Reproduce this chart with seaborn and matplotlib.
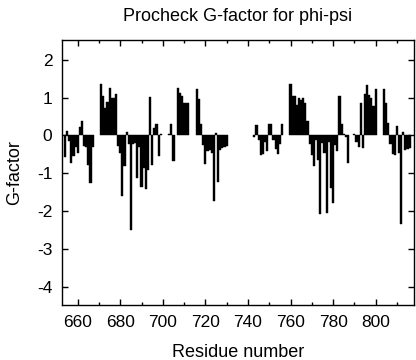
import numpy as np
import pandas as pd
import seaborn as sns
import matplotlib
matplotlib.use("Agg")
import matplotlib.pyplot as plt
from matplotlib.ticker import MultipleLocator

nan = np.nan

# G-factor per residue, three stretches of the chain (nan = no value)
seg1_start = 654
seg1 = [-0.58, 0.12, -0.15, -0.73, -0.54, -0.30, -0.45, 0.22, 0.38, -0.28,
        -0.30, -0.79, -1.26, -0.30, nan, nan, nan, 1.37, 1.05, 0.72,
        0.88, 1.24, 0.98, 1.00, 1.10, -0.28, -0.45, -1.60, -0.80, 0.10,
        -0.23, -2.50, -0.22, -0.20, -1.12, -0.30, -1.37, -0.85, -1.40, -0.90,
        1.02, -0.77, 0.20, 0.30, -0.55, 0.03, nan, nan, nan, 0.03,
        0.30, -0.68, nan, 1.24, 1.13, 1.04, 0.87, 0.87, 0.87, nan,
        nan, nan, 1.22, 0.96, 0.29, -0.24, -0.75, -0.42, -0.37, -0.45,
        -1.74, 0.07, -1.22, -0.37, -0.33, -0.30, -0.28]

seg2_start = 743
seg2 = [-0.03, 0.27, -0.12, -0.52, -0.50, -0.17, -0.42, 0.30, 0.30, -0.12,
        -0.35, -0.50, -0.22, 0.29, nan, nan, nan, 1.37, 1.04, 1.03,
        0.80, 1.00, 0.94, 1.00, 0.85, 0.37, -0.22, -0.52, -0.80, -0.12,
        -0.65, -2.08, -0.20, -0.46, -2.05, -0.18, -1.38, -1.77, -0.25, -0.40,
        1.03, 0.30, 0.03, -0.05, -0.73]

seg3_start = 790
seg3 = [0.03, -0.17, -0.30, 0.85, -0.33, 1.10, 1.32, 1.07, 0.98, 0.77,
        1.22, nan, nan, nan, 1.22, 0.85, 0.33, -0.23, -0.48, -0.52,
        0.24, -0.45, -2.33, 0.08, -0.37, -0.35, -0.33]

frames = []
for start, vals in [(seg1_start, seg1), (seg2_start, seg2), (seg3_start, seg3)]:
    frames.append(pd.DataFrame({'residue': np.arange(start, start + len(vals)),
                                'gfactor': vals}))
df = pd.concat(frames).dropna()

sns.set_theme(style="ticks")
plt.rcParams['font.family'] = ['Liberation Sans', 'DejaVu Sans']
plt.rcParams['axes.unicode_minus'] = False
plt.rcParams['text.color'] = 'black'
plt.rcParams['axes.labelcolor'] = 'black'

fig = plt.figure(figsize=(4.16, 3.6), dpi=100)
ax = fig.add_axes([0.149, 0.153, 0.846, 0.736])

sns.barplot(data=df, x='residue', y='gfactor', native_scale=True, color='black',
            saturation=1, width=1.0, errorbar=None, linewidth=0.3,
            edgecolor='black', ax=ax)

ax.set_xlim(652.6, 818.0)
ax.set_ylim(-4.47, 2.52)
ax.xaxis.set_major_locator(MultipleLocator(20))
ax.xaxis.set_minor_locator(MultipleLocator(10))
ax.yaxis.set_major_locator(MultipleLocator(1))
ax.tick_params(which='both', direction='in', top=True, right=True,
               labelsize=12.5, colors='black', width=1.0)
ax.tick_params(which='major', length=4.5, pad=7)
ax.tick_params(which='minor', length=2.2)
for s in ax.spines.values():
    s.set_linewidth(1.0)
    s.set_color('black')

ax.set_title('Procheck G-factor for phi-psi', fontsize=13, pad=14, color='black')
ax.set_xlabel('Residue number', fontsize=13, labelpad=10)
ax.set_ylabel('G-factor', fontsize=13, labelpad=10)

fig.savefig('out.png', dpi=100)
